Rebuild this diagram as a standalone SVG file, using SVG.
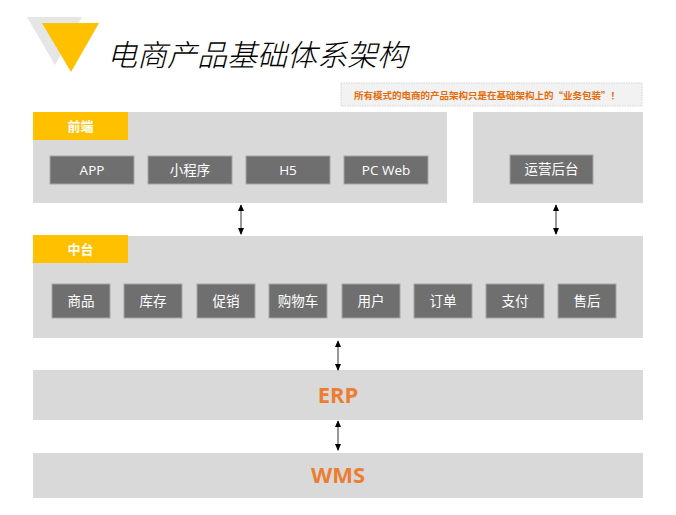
<svg xmlns="http://www.w3.org/2000/svg" width="676" height="515" viewBox="0 0 676 515">
<style>
.panel{fill:#d9d9d9;}
.tab{fill:#ffc000;}
.tabt{fill:#fff;font-family:"Noto Sans CJK SC",sans-serif;font-weight:bold;font-size:13px;text-anchor:middle;}
.item{fill:#6f6f6f;stroke:#a6a6a6;stroke-width:1;}
.itemt{fill:#fff;font-family:"Open Sans","Noto Sans CJK SC",sans-serif;font-size:13.5px;text-anchor:middle;}
.big{fill:#ed7d31;font-family:"Open Sans","Noto Sans CJK SC",sans-serif;font-weight:bold;font-size:22px;text-anchor:middle;}
.conn{stroke:#333;stroke-width:1;fill:none;marker-start:url(#ah);marker-end:url(#ah);}
</style>
<defs>
<marker id="ah" viewBox="0 0 8 8" refX="7" refY="4" markerWidth="7" markerHeight="7" markerUnits="userSpaceOnUse" orient="auto-start-reverse">
<path d="M0,0.5 L8,4 L0,7.5 Z" fill="#000"/>
</marker>
</defs>
<rect width="676" height="515" fill="#fff"/>
<g id="title">
<polygon points="27,17 82,17 55,65" fill="#e6e6e6"/>
<polygon points="42,23 99,23 71,72" fill="#ffc000"/>
<text x="107" y="66" font-family="Noto Sans CJK SC,sans-serif" font-size="30" font-weight="300" font-style="italic" fill="#000">电商产品基础体系架构</text>
</g>
<g id="note">
<rect x="341" y="83" width="301" height="23" fill="#f2f2f2" stroke="#d4d4d4" stroke-width="1" stroke-dasharray="1.5,1"/>
<text x="487" y="98.5" font-family="Noto Sans CJK SC,sans-serif" font-size="9.5" font-weight="bold" fill="#e46c0a" text-anchor="middle">所有模式的电商的产品架构只是在基础架构上的“业务包装”！</text>
</g>
<g id="frontend">
<rect class="panel" x="33" y="112" width="414" height="91"/>
<rect class="tab" x="33" y="112" width="95" height="28"/>
<text class="tabt" x="80.5" y="130.5">前端</text>
<g id="app"><rect class="item" x="50" y="156" width="84" height="28"/><text class="itemt" x="92" y="174.5">APP</text></g>
<g id="miniprogram"><rect class="item" x="148" y="156" width="84" height="28"/><text class="itemt" x="190" y="174.5">小程序</text></g>
<g id="h5"><rect class="item" x="246" y="156" width="84" height="28"/><text class="itemt" x="288" y="174.5">H5</text></g>
<g id="pcweb"><rect class="item" x="344" y="156" width="84" height="28"/><text class="itemt" x="386" y="174.5">PC Web</text></g>
</g>
<g id="ops">
<rect class="panel" x="473" y="112" width="170" height="91"/>
<rect class="item" x="510" y="155" width="83" height="29"/>
<text class="itemt" x="551.5" y="174">运营后台</text>
</g>
<g id="middle">
<rect class="panel" x="33" y="236" width="610" height="102"/>
<rect class="tab" x="33" y="235" width="95" height="28"/>
<text class="tabt" x="80.5" y="253.5">中台</text>
<g id="goods"><rect class="item" x="52" y="284" width="58" height="34"/><text class="itemt" x="81" y="305.5">商品</text></g>
<g id="stock"><rect class="item" x="124" y="284" width="58" height="34"/><text class="itemt" x="153" y="305.5">库存</text></g>
<g id="promo"><rect class="item" x="197" y="284" width="58" height="34"/><text class="itemt" x="226" y="305.5">促销</text></g>
<g id="cart"><rect class="item" x="269" y="284" width="58" height="34"/><text class="itemt" x="298" y="305.5">购物车</text></g>
<g id="user"><rect class="item" x="342" y="284" width="58" height="34"/><text class="itemt" x="371" y="305.5">用户</text></g>
<g id="order"><rect class="item" x="414" y="284" width="58" height="34"/><text class="itemt" x="443" y="305.5">订单</text></g>
<g id="pay"><rect class="item" x="486" y="284" width="58" height="34"/><text class="itemt" x="515" y="305.5">支付</text></g>
<g id="aftersale"><rect class="item" x="558" y="284" width="58" height="34"/><text class="itemt" x="587" y="305.5">售后</text></g>
</g>
<g id="erp">
<rect class="panel" x="33" y="370" width="610" height="50"/>
<text class="big" x="338" y="403">ERP</text>
</g>
<g id="wms">
<rect class="panel" x="33" y="453" width="610" height="45"/>
<text class="big" x="338" y="483">WMS</text>
</g>
<g id="connectors">
<line class="conn" x1="241" y1="205" x2="241" y2="234"/>
<line class="conn" x1="556" y1="205" x2="556" y2="234"/>
<line class="conn" x1="338" y1="341" x2="338" y2="370"/>
<line class="conn" x1="338" y1="421" x2="338" y2="450"/>
</g>
</svg>
